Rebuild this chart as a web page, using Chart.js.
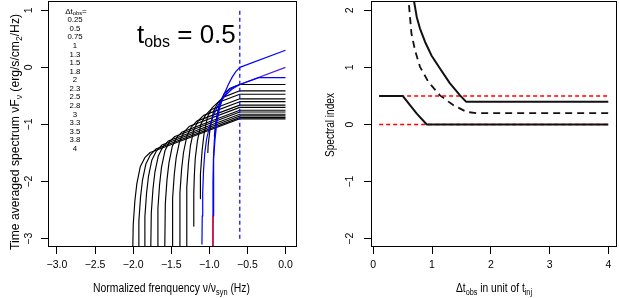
<!DOCTYPE html>
<html><head><meta charset="utf-8">
<script src="https://cdn.jsdelivr.net/npm/chart.js@4"></script>
<style>
html,body{margin:0;padding:0;background:#fff;}
#wrap{position:relative;width:619px;height:298px;overflow:hidden;}
#w1{position:absolute;left:0;top:0;width:310px;height:298px;}
#w2{position:absolute;left:310px;top:0;width:309px;height:298px;}
canvas{display:block;}
</style></head><body>
<div id="wrap"><div id="w1"><canvas id="c1" width="310" height="298"></canvas></div><div id="w2"><canvas id="c2" width="309" height="298"></canvas></div></div>
<script>
// ---------------- data ----------------
const dtObsLabels = ['0.25','0.5','0.75','1','1.3','1.5','1.8','2','2.3','2.5','2.8','3','3.3','3.5','3.8','4'];
const leftXTicks = [-3, -2.5, -2, -1.5, -1, -0.5, 0];
const leftYTicks = [-3, -2, -1, 0, 1];
const rightXTicks = [0, 1, 2, 3, 4];
const rightYTicks = [-2, -1, 0, 1, 2];

// vertical marker at the break frequency
const breakLine = [[-0.6, -3.0], [-0.6, 1.0]];

// spectra (x = log normalized frequency, y = log nuF_nu)
const spec_0_25 = [[-0.953,-3.3],[-0.951,-2.6],[-0.947,-2.0],[-0.940,-1.6],[-0.925,-1.25],[-0.900,-0.95],[-0.860,-0.68],[-0.810,-0.48],[-0.750,-0.30],[-0.700,-0.17],[-0.650,-0.07],[-0.6,0.0],[0.0,0.30]];
const spec_0_25_red = [[-0.952,-2.6],[-0.953,-3.3]];
const spec_0_5_low = [[-1.097,-3.1],[-1.093,-2.6],[-1.087,-2.2],[-1.076,-1.8],[-1.060,-1.5],[-1.035,-1.25],[-1.000,-1.05],[-0.950,-0.85],[-0.880,-0.65],[-0.800,-0.50],[-0.700,-0.38],[-0.6,-0.30]];
const spec_0_5_high = [[-0.6,-0.30],[0.0,0.0]];
const spec_0_75 = [[-0.955,-2.6],[-0.952,-2.0],[-0.946,-1.6],[-0.935,-1.3],[-0.915,-1.0],[-0.880,-0.75],[-0.830,-0.56],[-0.760,-0.42],[-0.680,-0.34],[-0.6,-0.30],[-0.35,-0.18],[0.0,-0.18]];
const spec_1   = [[-0.935,-1.21],[-0.910,-0.92],[-0.865,-0.62],[-0.805,-0.46],[-0.735,-0.37],[-0.6,-0.30],[0.0,-0.30]];
const spec_1_3 = [[-1.020,-1.50],[-1.015,-1.36],[-0.990,-1.07],[-0.945,-0.77],[-0.885,-0.61],[-0.815,-0.52],[-0.6,-0.41],[0.0,-0.41]];
const spec_1_5 = [[-1.121,-2.30],[-1.117,-1.88],[-1.095,-1.46],[-1.070,-1.17],[-1.025,-0.87],[-0.965,-0.71],[-0.895,-0.62],[-0.6,-0.47],[0.0,-0.47]];
const spec_1_8 = [[-1.208,-2.78],[-1.204,-2.20],[-1.197,-1.90],[-1.185,-1.60],[-1.157,-1.29],[-1.112,-1.00],[-1.052,-0.84],[-0.982,-0.74],[-0.6,-0.55],[0.0,-0.55]];
const spec_2   = [[-1.304,-3.3],[-1.296,-2.10],[-1.274,-1.68],[-1.249,-1.38],[-1.204,-1.09],[-1.144,-0.93],[-1.074,-0.84],[-0.6,-0.60],[0.0,-0.60]];
const spec_2_3 = [[-1.394,-3.3],[-1.386,-2.20],[-1.364,-1.78],[-1.339,-1.49],[-1.294,-1.20],[-1.234,-1.04],[-1.164,-0.94],[-0.6,-0.66],[0.0,-0.66]];
const spec_2_5 = [[-1.490,-3.3],[-1.482,-2.29],[-1.460,-1.87],[-1.435,-1.58],[-1.390,-1.29],[-1.330,-1.13],[-1.260,-1.03],[-0.6,-0.70],[0.0,-0.70]];
const spec_2_8 = [[-1.586,-3.3],[-1.578,-2.39],[-1.556,-1.97],[-1.531,-1.68],[-1.486,-1.38],[-1.426,-1.22],[-1.356,-1.13],[-0.6,-0.75],[0.0,-0.75]];
const spec_3   = [[-1.683,-3.3],[-1.675,-2.47],[-1.653,-2.05],[-1.628,-1.75],[-1.583,-1.46],[-1.523,-1.30],[-1.453,-1.21],[-0.6,-0.78],[0.0,-0.78]];
const spec_3_3 = [[-1.770,-3.3],[-1.762,-2.55],[-1.740,-2.13],[-1.715,-1.84],[-1.670,-1.55],[-1.610,-1.39],[-1.540,-1.29],[-0.6,-0.82],[0.0,-0.82]];
const spec_3_5 = [[-1.854,-3.3],[-1.846,-2.62],[-1.824,-2.20],[-1.799,-1.91],[-1.754,-1.62],[-1.694,-1.46],[-1.624,-1.36],[-0.6,-0.85],[0.0,-0.85]];
const spec_3_8 = [[-1.933,-3.3],[-1.925,-2.69],[-1.903,-2.27],[-1.878,-1.98],[-1.833,-1.69],[-1.773,-1.53],[-1.703,-1.43],[-0.6,-0.88],[0.0,-0.88]];
const spec_4   = [[-2.007,-3.3],[-1.999,-2.75],[-1.977,-2.33],[-1.952,-2.04],[-1.907,-1.74],[-1.847,-1.58],[-1.777,-1.49],[-0.6,-0.90],[0.0,-0.90]];
const blackSpectra = [spec_1, spec_1_3, spec_1_5, spec_1_8, spec_2, spec_2_3, spec_2_5, spec_2_8, spec_3, spec_3_3, spec_3_5, spec_3_8, spec_4];

// spectral index vs delta t_obs
const idxSolidUpper = [[0.675,2.30],[0.69,2.18],[0.74,1.88],[0.795,1.68],[0.88,1.45],[0.99,1.21],[1.135,0.98],[1.305,0.72],[1.476,0.51],[1.578,0.40],[4.0,0.40]];
const idxDashed = [[0.595,2.30],[0.60,2.18],[0.625,1.88],[0.65,1.59],[0.71,1.30],[0.795,1.01],[0.935,0.75],[1.135,0.51],[1.36,0.34],[1.59,0.22],[1.76,0.20],[4.0,0.20]];
const idxSolidLower = [[0.1,0.5],[0.5,0.5],[0.625,0.34],[0.74,0.19],[0.91,0.0],[4.0,0.0]];
const refHalf = [[0.1,0.5],[4.0,0.5]];
const refZero = [[0.1,0.0],[4.0,0.0]];

// ---------------- helpers ----------------
const FONT = '"Liberation Sans", Arial, Helvetica, sans-serif';
const toXY = a => a.map(p => ({x: p[0], y: p[1]}));
function line(arr, color, width, dash) {
  return {data: toXY(arr), borderColor: color, borderWidth: width, borderDash: dash || [],
          pointRadius: 0, pointHoverRadius: 0, showLine: true, fill: false, tension: 0,
          borderCapStyle: 'butt', borderJoinStyle: 'round'};
}
const minusFmt = (v, d) => (v < 0 ? '\u2212' : '') + Math.abs(v).toFixed(d);

function drawRich(ctx, parts, cx, cy, o) {
  o = o || {};
  ctx.save();
  let W = 0;
  const ws = parts.map(p => { ctx.font = p[1] + 'px ' + FONT; const w = ctx.measureText(p[0]).width; W += w; return w; });
  const sx = o.target ? o.target / W : 1;
  ctx.translate(cx, cy);
  if (o.rot) ctx.rotate(o.rot);
  ctx.scale(sx, 1);
  ctx.textBaseline = o.baseline || 'alphabetic';
  ctx.textAlign = 'left';
  ctx.fillStyle = o.color || '#000';
  let x = o.align === 'left' ? 0 : -W / 2;
  parts.forEach((p, i) => { ctx.font = p[1] + 'px ' + FONT; ctx.fillText(p[0], x, p[2] || 0); x += ws[i]; });
  ctx.restore();
}

function xScale(min, max, ticks, fmt) {
  return {type: 'linear', position: 'bottom', min, max,
    afterBuildTicks: s => { s.ticks = ticks.map(v => ({value: v})); },
    afterFit: s => { s.height = 51; },
    grid: {display: true, drawOnChartArea: false, drawTicks: true, tickLength: 7, color: '#000', lineWidth: 1},
    border: {display: false},
    ticks: {display: true, autoSkip: false, maxRotation: 0, minRotation: 0, padding: 5, color: '#000',
            font: {family: FONT, size: 10.5}, callback: v => fmt(v)}};
}
function yScale(min, max, ticks, width) {
  return {type: 'linear', position: 'left', min, max,
    afterBuildTicks: s => { s.ticks = ticks.map(v => ({value: v})); },
    afterFit: s => { s.width = width; },
    grid: {display: true, drawOnChartArea: false, drawTicks: true, tickLength: 7, color: '#000', lineWidth: 1},
    border: {display: false},
    ticks: {display: false}};
}
function boxAndYLabels(chart, ticks, labelX, fmt) {
  const ctx = chart.ctx, ca = chart.chartArea, ys = chart.scales.y;
  ctx.save();
  ctx.strokeStyle = '#000'; ctx.lineWidth = 1;
  ctx.strokeRect(ca.left + 0.5, ca.top + 0.5, ca.width - 1, ca.height - 1);
  ctx.restore();
  ticks.forEach(v => {
    drawRich(ctx, [[fmt(v), 10.5, 0]], labelX, ys.getPixelForValue(v), {rot: -Math.PI / 2, baseline: 'middle'});
  });
}

const baseOpts = {responsive: false, devicePixelRatio: 1, animation: false,
  plugins: {legend: {display: false}, tooltip: {enabled: false}}, events: []};

// ---------------- left chart ----------------
const leftDatasets = [
  line(breakLine, '#0000ff', 1.2, [4, 3]),
  line(spec_0_25_red, '#ff0000', 1.3),
  line(spec_0_25, '#0000ff', 1.2),
  line(spec_0_75, '#0000ff', 1.2),
  line(spec_0_5_low, '#0000ff', 1.2),
  line(spec_0_5_high, '#5020d8', 1.2),
  ...blackSpectra.map(s => line(s, '#000000', 1.15))
];

const leftPlugin = {id: 'leftDeco', afterDraw(chart) {
  const ctx = chart.ctx;
  boxAndYLabels(chart, leftYTicks, 29.5, v => minusFmt(v, 0));
  drawRich(ctx, [['Normalized frenquency \u03BD/\u03BD', 12, 0], ['syn', 8.5, 3], [' (Hz)', 12, 0]], 171.5, 292, {target: 157});
  drawRich(ctx, [['Time averaged spectrum \u03BDF', 12, 0], ['\u03BD', 8.5, 3], [' (erg/s/cm', 12, 0], ['2', 8.5, 3], ['/Hz)', 12, 0]], 19, 132, {rot: -Math.PI / 2, target: 236});
  // legend text
  drawRich(ctx, [['\u0394t', 8, 0], ['obs', 5.8, 1.5], ['=', 8, 0]], 76, 13.6, {});
  dtObsLabels.forEach((t, i) => drawRich(ctx, [[t, 7.8, 0]], 75, 13.6 + 8.58 * (i + 1), {target: null}));
  // big annotation
  drawRich(ctx, [['t', 26, 0], ['obs', 16, 4], [' = 0.5', 26, 0]], 137, 43, {align: 'left'});
}};

new Chart(document.getElementById('c1'), {
  type: 'scatter',
  data: {datasets: leftDatasets},
  options: Object.assign({}, baseOpts, {
    layout: {padding: {left: 0, right: 13, top: 1, bottom: 0}},
    scales: {x: xScale(-3.118, 0.151, leftXTicks, v => minusFmt(v, 1)), y: yScale(-3.145, 1.163, leftYTicks, 48)}
  }),
  plugins: [leftPlugin]
});

// ---------------- right chart ----------------
const rightDatasets = [
  line(idxSolidLower, '#111111', 2),
  line(idxSolidUpper, '#111111', 2),
  line(idxDashed, '#111111', 1.8, [7, 5]),
  line(refHalf, '#ff0000', 1.4, [4, 3]),
  line(refZero, '#ff0000', 1.4, [4, 3])
];
const rightPlugin = {id: 'rightDeco', afterDraw(chart) {
  const ctx = chart.ctx;
  boxAndYLabels(chart, rightYTicks, 40, v => minusFmt(v, 0));
  drawRich(ctx, [['\u0394t', 12, 0], ['obs', 8.5, 3], [' in unit of t', 12, 0], ['inj', 8.5, 3]], 184, 292, {target: 76});
  drawRich(ctx, [['Spectral index', 12, 0]], 24, 125, {rot: -Math.PI / 2, target: 64});
}};
new Chart(document.getElementById('c2'), {
  type: 'scatter',
  data: {datasets: rightDatasets},
  options: Object.assign({}, baseOpts, {
    layout: {padding: {left: 0, right: 2, top: 1, bottom: 0}},
    scales: {x: xScale(-0.039, 4.148, rightXTicks, v => String(v)), y: yScale(-2.145, 2.163, rightYTicks, 61)}
  }),
  plugins: [rightPlugin]
});
</script>
</body></html>
